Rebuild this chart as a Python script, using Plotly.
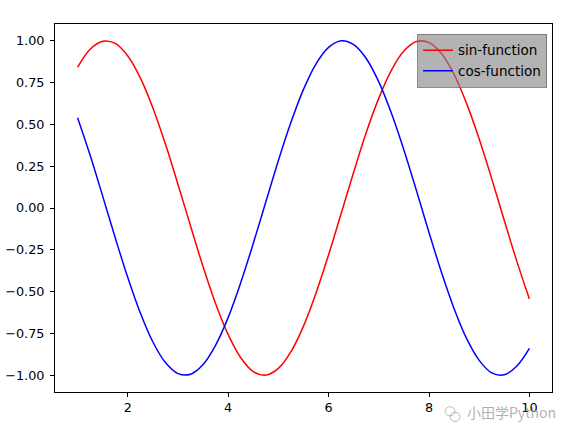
import plotly.graph_objects as go

x_vals = [1.00, 1.25, 1.50, 1.75, 2.00, 2.25, 2.50, 2.75, 3.00, 3.25, 3.50, 3.75,
          4.00, 4.25, 4.50, 4.75, 5.00, 5.25, 5.50, 5.75, 6.00, 6.25, 6.50, 6.75,
          7.00, 7.25, 7.50, 7.75, 8.00, 8.25, 8.50, 8.75, 9.00, 9.25, 9.50, 9.75, 10.00]

sin_vals = [0.841, 0.949, 0.997, 0.984, 0.909, 0.778, 0.598, 0.382, 0.141, -0.108,
            -0.351, -0.572, -0.757, -0.895, -0.978, -0.999, -0.959, -0.859, -0.706,
            -0.508, -0.279, -0.033, 0.215, 0.451, 0.657, 0.823, 0.938, 0.995, 0.989,
            0.923, 0.798, 0.624, 0.412, 0.174, -0.075, -0.319, -0.544]

cos_vals = [0.540, 0.315, 0.071, -0.178, -0.416, -0.628, -0.801, -0.924, -0.990,
            -0.994, -0.936, -0.820, -0.654, -0.446, -0.211, 0.037, 0.284, 0.512,
            0.709, 0.862, 0.960, 1.000, 0.977, 0.894, 0.754, 0.568, 0.347, 0.104,
            -0.146, -0.386, -0.602, -0.781, -0.911, -0.986, -0.997, -0.944, -0.839]

series_names = ["sin-function", "cos-function"]
x_ticks = [2, 4, 6, 8, 10]
y_ticks = [-1.00, -0.75, -0.50, -0.25, 0.00, 0.25, 0.50, 0.75, 1.00]

font = "DejaVu Sans, sans-serif"

fig = go.Figure()
fig.add_trace(go.Scatter(x=x_vals, y=sin_vals, mode="lines", name=series_names[0],
                         line=dict(color="red", width=1.5, shape="spline", smoothing=1.0)))
fig.add_trace(go.Scatter(x=x_vals, y=cos_vals, mode="lines", name=series_names[1],
                         line=dict(color="blue", width=1.5, shape="spline", smoothing=1.0)))

axis_common = dict(showline=True, mirror=True, linecolor="black", linewidth=1,
                   ticks="outside", ticklen=4, tickcolor="black", tickwidth=1,
                   showgrid=False, zeroline=False, automargin=False,
                   tickfont=dict(family=font, size=12.8, color="black"))

fig.update_xaxes(range=[0.55, 10.45], tickvals=x_ticks,
                 ticktext=[str(v) for v in x_ticks], **axis_common)
fig.update_yaxes(range=[-1.1, 1.1], tickvals=y_ticks,
                 ticktext=[("\u2212" if v < 0 else "") + f"{abs(v):.2f}" for v in y_ticks],
                 ticklabelstandoff=3, **axis_common)

# watermark icon
fig.add_shape(type="circle", xref="paper", yref="paper",
              x0=0.785, x1=0.805, y0=-0.04, y1=-0.065,
              line=dict(color="rgba(170,170,170,0.8)", width=1))
fig.add_shape(type="circle", xref="paper", yref="paper",
              x0=0.795, x1=0.815, y0=-0.055, y1=-0.08,
              line=dict(color="rgba(170,170,170,0.8)", width=1))

fig.add_annotation(text="小田学Python", xref="paper", yref="paper",
                   x=0.825, y=-0.054, xanchor="left", yanchor="middle",
                   showarrow=False,
                   font=dict(family="Noto Sans CJK SC, sans-serif", size=14,
                             color="rgba(150,150,150,0.75)"))

fig.update_layout(
    width=573, height=437,
    margin=dict(l=55, r=21, t=24, b=45),
    plot_bgcolor="white", paper_bgcolor="white",
    showlegend=True,
    legend=dict(x=0.99, y=0.973, xanchor="right", yanchor="top",
                bgcolor="rgba(128,128,128,0.6)", bordercolor="rgba(110,110,110,0.8)",
                borderwidth=1, font=dict(family=font, size=13.5, color="black"),
                itemwidth=30, tracegroupgap=0),
)

fig.write_html("out.html", config={"displayModeBar": False},
               post_script="document.body.style.margin='0';document.body.style.overflow='hidden';")
